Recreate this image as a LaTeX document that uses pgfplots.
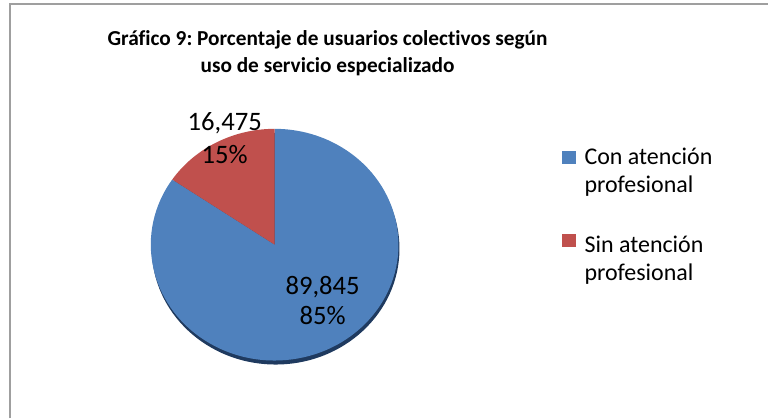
\documentclass[border=0pt]{standalone}
\usepackage{pgfplots}
\pgfplotsset{compat=1.18}
\usepackage{pgfplotstable}
\usepackage{fontspec}
\setmainfont{Carlito}[Ligatures=NoCommon]
\frenchspacing
\definecolor{conblue}{HTML}{4F81BD}
\definecolor{sinred}{HTML}{C0504D}
\definecolor{pieedge}{HTML}{1F3A5F}

% usuarios colectivos segun uso de servicio especializado
\pgfplotstableread{
grupo valor
Con 89845
Sin 16475
}\datos

\begin{document}
\begin{tikzpicture}
\pgfplotstablegetelem{0}{valor}\of\datos \let\vcon\pgfplotsretval
\pgfplotstablegetelem{1}{valor}\of\datos \let\vsin\pgfplotsretval
\edef\angend{\fpeval{90+360*\vsin/(\vcon+\vsin)}}
\begin{axis}[
    width=576.75pt, height=314.25pt, scale only axis,
    xmin=0, xmax=769, ymin=0, ymax=419,
    hide axis, clip=false
]
% lienzo completo
\path (axis cs:0,0) rectangle (axis cs:769,419);
% marco
\draw[gray!75, line width=1.5pt] (axis cs:10,0) -- (axis cs:10,415) -- (axis cs:769,415);

% titulo
\node[anchor=base, font=\fontsize{16}{19.5}\selectfont\bfseries] at (axis cs:328,373)
    {Gráfico 9: Porcentaje de usuarios colectivos según};
\node[anchor=base, font=\fontsize{16}{19.5}\selectfont\bfseries] at (axis cs:328,346)
    {uso de servicio especializado};

% pastel
\fill[pieedge] (axis cs:276,170) ellipse[x radius=93pt, y radius=87pt];
\fill[conblue] (axis cs:275,174) -- ++(\angend:93pt and 87pt)
    arc[start angle=\angend, end angle=450, x radius=93pt, y radius=87pt] -- cycle;
\fill[sinred] (axis cs:275,174) -- ++(90:93pt and 87pt)
    arc[start angle=90, end angle=\angend, x radius=93pt, y radius=87pt] -- cycle;

% etiquetas
\node[anchor=base, font=\fontsize{20}{24}\selectfont] at (axis cs:225,288) {16,475};
\node[anchor=base, font=\fontsize{20}{24}\selectfont] at (axis cs:225,255) {15\%};
\node[anchor=base, font=\fontsize{20}{24}\selectfont] at (axis cs:323,124) {89,845};
\node[anchor=base, font=\fontsize{20}{24}\selectfont] at (axis cs:323,94) {85\%};

% leyenda
\fill[conblue] (axis cs:563,255) rectangle (axis cs:577,268);
\node[anchor=base west, inner sep=0pt, font=\fontsize{18}{22}\selectfont] at (axis cs:585,254) {Con atención};
\node[anchor=base west, inner sep=0pt, font=\fontsize{18}{22}\selectfont] at (axis cs:585,226) {profesional};
\fill[sinred] (axis cs:563,172) rectangle (axis cs:577,185);
\node[anchor=base west, inner sep=0pt, font=\fontsize{18}{22}\selectfont] at (axis cs:585,166) {Sin atención};
\node[anchor=base west, inner sep=0pt, font=\fontsize{18}{22}\selectfont] at (axis cs:585,138) {profesional};
\end{axis}
\end{tikzpicture}
\end{document}
